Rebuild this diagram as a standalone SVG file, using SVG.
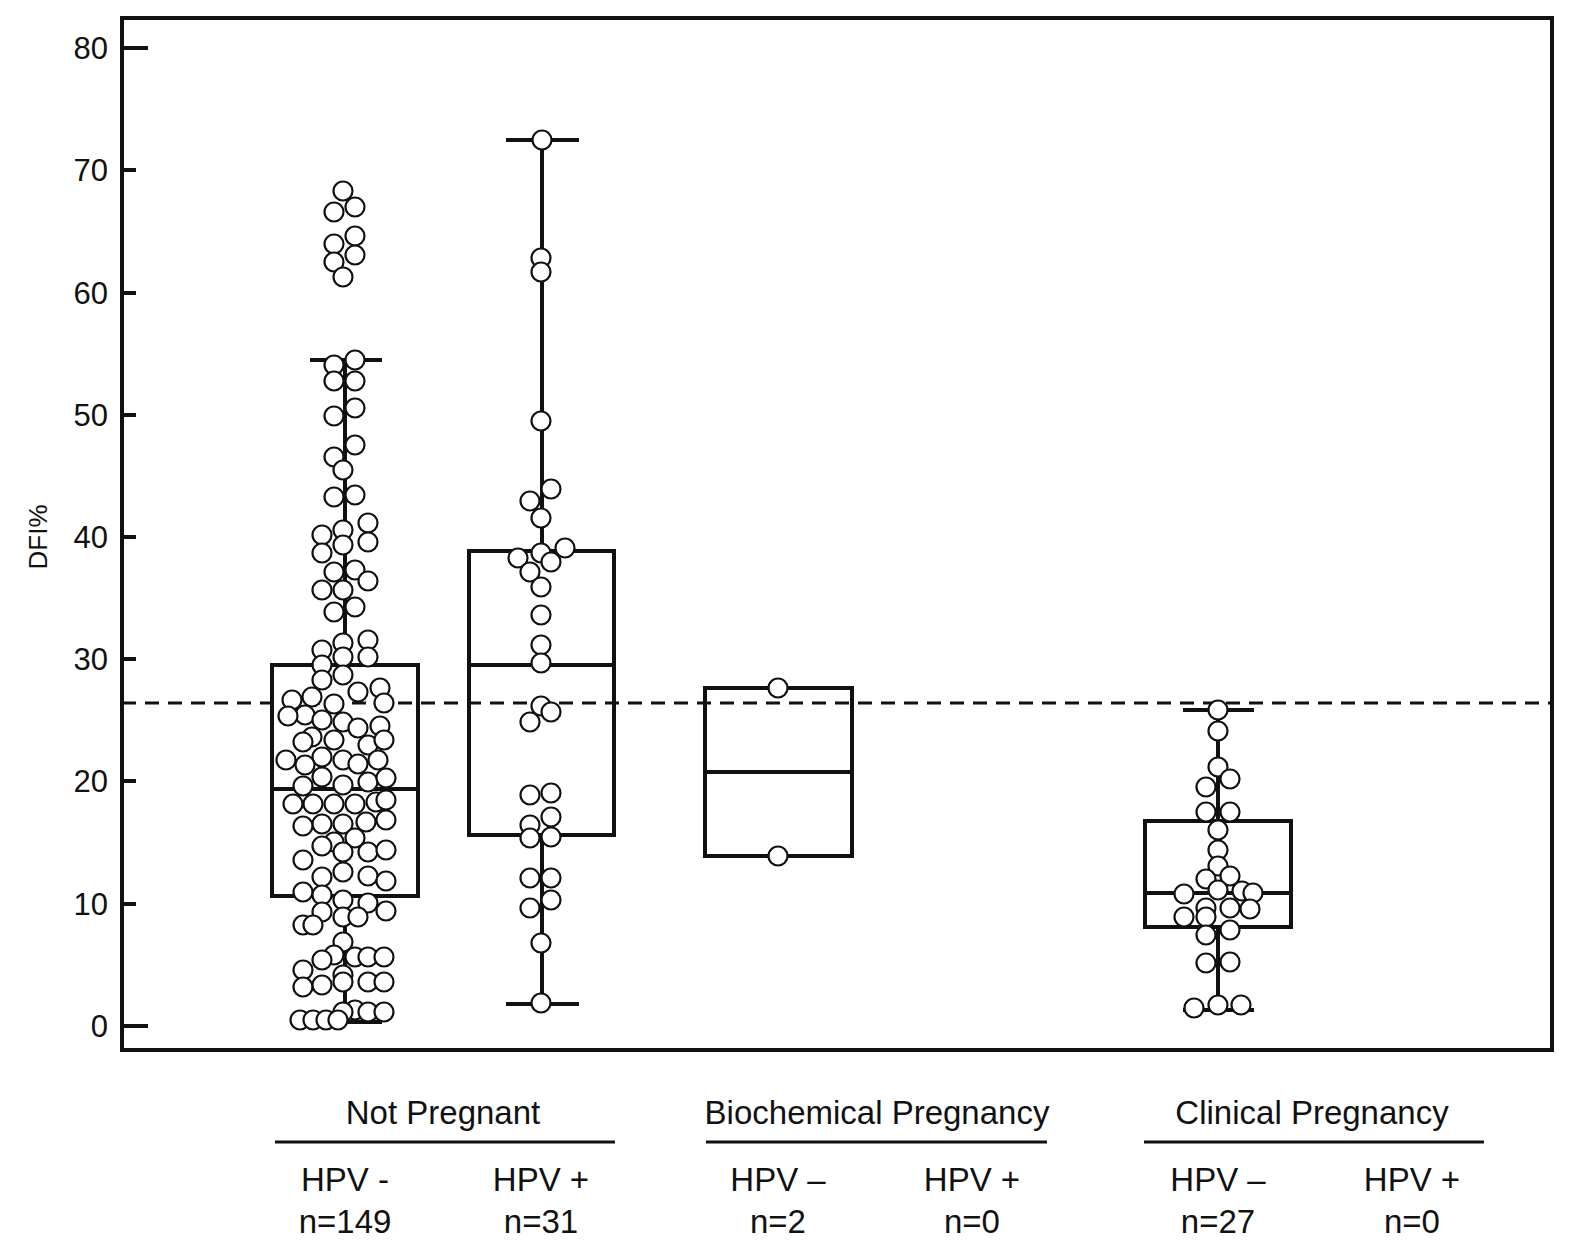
<svg xmlns="http://www.w3.org/2000/svg" width="1572" height="1254" viewBox="0 0 1572 1254">
<style>
text{font-family:"Liberation Sans",Arial,sans-serif;fill:#111}
.t{font-size:31px;text-anchor:end}
.l{font-size:33px;text-anchor:middle}
.b{fill:none;stroke:#111;stroke-width:4}
.p circle{fill:#fff;stroke:#111;stroke-width:2.2;r:9.5}
</style>
<rect width="1572" height="1254" fill="#fff"/>
<g id="axes">
<rect x="122" y="18" width="1430" height="1032" class="b"/>
<g stroke="#111" stroke-width="4">
<line x1="122" y1="1026" x2="148" y2="1026"/><line x1="122" y1="904" x2="136" y2="904"/><line x1="122" y1="781" x2="136" y2="781"/><line x1="122" y1="659" x2="136" y2="659"/><line x1="122" y1="537" x2="136" y2="537"/><line x1="122" y1="415" x2="136" y2="415"/><line x1="122" y1="293" x2="136" y2="293"/><line x1="122" y1="170" x2="136" y2="170"/><line x1="122" y1="48" x2="148" y2="48"/>
</g>
<text class="t" x="108" y="1037">0</text><text class="t" x="108" y="915">10</text><text class="t" x="108" y="792">20</text><text class="t" x="108" y="670">30</text><text class="t" x="108" y="548">40</text><text class="t" x="108" y="426">50</text><text class="t" x="108" y="304">60</text><text class="t" x="108" y="181">70</text><text class="t" x="108" y="59">80</text>
<text x="47" y="537" font-size="26" text-anchor="middle" transform="rotate(-90 47 537)">DFI%</text>
<line x1="122" y1="703" x2="1552" y2="703" stroke="#111" stroke-width="3" stroke-dasharray="14 9"/>
</g>
<g id="box1" class="b">
<line x1="345" y1="360" x2="345" y2="665"/><line x1="345" y1="896" x2="345" y2="1022"/><line x1="310" y1="360" x2="382" y2="360"/><line x1="310" y1="1022" x2="382" y2="1022"/>
<rect x="272" y="665" width="146" height="231"/><line x1="272" y1="789" x2="418" y2="789"/>
</g>
<g id="box2" class="b">
<line x1="542" y1="140" x2="542" y2="551"/><line x1="542" y1="835" x2="542" y2="1004"/><line x1="506" y1="140" x2="579" y2="140"/><line x1="506" y1="1004" x2="579" y2="1004"/>
<rect x="469" y="551" width="145" height="284"/><line x1="469" y1="665" x2="614" y2="665"/>
</g>
<g id="box3" class="b"><rect x="705" y="688" width="147" height="168"/><line x1="705" y1="772" x2="852" y2="772"/></g>
<g id="box4" class="b">
<line x1="1218" y1="710" x2="1218" y2="821"/><line x1="1218" y1="927" x2="1218" y2="1010"/><line x1="1183" y1="710" x2="1254" y2="710"/><line x1="1183" y1="1010" x2="1254" y2="1010"/>
<rect x="1145" y="821" width="146" height="106"/><line x1="1145" y1="893" x2="1291" y2="893"/>
</g>
<g id="points1" class="p">
<circle cx="343" cy="191"/><circle cx="334" cy="212"/><circle cx="355" cy="207"/><circle cx="334" cy="244"/><circle cx="355" cy="236"/><circle cx="334" cy="262"/><circle cx="355" cy="255"/><circle cx="343" cy="277"/><circle cx="355" cy="360"/><circle cx="334" cy="365"/><circle cx="355" cy="381"/><circle cx="334" cy="381"/><circle cx="334" cy="416"/><circle cx="355" cy="408"/><circle cx="334" cy="457"/><circle cx="343" cy="470"/><circle cx="355" cy="445"/><circle cx="334" cy="497"/><circle cx="355" cy="495"/><circle cx="322" cy="535"/><circle cx="343" cy="530"/><circle cx="368" cy="523"/><circle cx="322" cy="553"/><circle cx="343" cy="545"/><circle cx="368" cy="542"/><circle cx="334" cy="572"/><circle cx="355" cy="570"/><circle cx="322" cy="590"/><circle cx="343" cy="590"/><circle cx="368" cy="581"/><circle cx="334" cy="612"/><circle cx="355" cy="607"/><circle cx="322" cy="650"/><circle cx="343" cy="643"/><circle cx="368" cy="640"/><circle cx="322" cy="665"/><circle cx="343" cy="657"/><circle cx="368" cy="657"/>
<circle cx="322" cy="680"/><circle cx="343" cy="675"/><circle cx="358" cy="692"/><circle cx="380" cy="688"/><circle cx="312" cy="697"/><circle cx="292" cy="700"/><circle cx="334" cy="704"/><circle cx="384" cy="703"/><circle cx="305" cy="715"/><circle cx="322" cy="720"/><circle cx="343" cy="722"/><circle cx="358" cy="728"/><circle cx="380" cy="726"/><circle cx="288" cy="716"/><circle cx="312" cy="737"/><circle cx="334" cy="740"/><circle cx="368" cy="745"/><circle cx="384" cy="740"/><circle cx="303" cy="742"/><circle cx="322" cy="757"/><circle cx="343" cy="760"/><circle cx="358" cy="764"/><circle cx="378" cy="760"/><circle cx="305" cy="765"/><circle cx="286" cy="760"/><circle cx="322" cy="777"/><circle cx="343" cy="785"/><circle cx="368" cy="782"/><circle cx="386" cy="778"/><circle cx="303" cy="786"/><circle cx="313" cy="804"/><circle cx="334" cy="804"/><circle cx="355" cy="804"/><circle cx="376" cy="802"/><circle cx="293" cy="804"/><circle cx="386" cy="800"/><circle cx="322" cy="824"/><circle cx="343" cy="824"/><circle cx="366" cy="822"/><circle cx="303" cy="826"/><circle cx="386" cy="820"/><circle cx="334" cy="842"/><circle cx="355" cy="838"/><circle cx="322" cy="846"/><circle cx="368" cy="852"/><circle cx="303" cy="860"/><circle cx="343" cy="852"/><circle cx="386" cy="850"/><circle cx="322" cy="877"/><circle cx="343" cy="872"/><circle cx="368" cy="876"/><circle cx="386" cy="881"/><circle cx="303" cy="892"/><circle cx="322" cy="895"/><circle cx="343" cy="900"/><circle cx="368" cy="903"/><circle cx="386" cy="911"/><circle cx="303" cy="925"/><circle cx="322" cy="912"/><circle cx="343" cy="917"/><circle cx="358" cy="917"/><circle cx="313" cy="925"/><circle cx="343" cy="942"/><circle cx="334" cy="955"/><circle cx="355" cy="957"/><circle cx="368" cy="957"/><circle cx="384" cy="957"/><circle cx="322" cy="960"/><circle cx="303" cy="970"/><circle cx="343" cy="975"/><circle cx="368" cy="982"/><circle cx="384" cy="982"/><circle cx="303" cy="987"/><circle cx="322" cy="985"/><circle cx="343" cy="982"/><circle cx="355" cy="1010"/><circle cx="368" cy="1012"/><circle cx="384" cy="1012"/><circle cx="343" cy="1012"/><circle cx="300" cy="1020"/><circle cx="313" cy="1020"/><circle cx="326" cy="1020"/><circle cx="338" cy="1020"/>
</g>
<g id="points2" class="p">
<circle cx="542" cy="140"/><circle cx="541" cy="258"/><circle cx="541" cy="272"/><circle cx="541" cy="421"/><circle cx="530" cy="501"/><circle cx="551" cy="489"/><circle cx="541" cy="518"/><circle cx="518" cy="558"/><circle cx="541" cy="553"/><circle cx="565" cy="548"/><circle cx="530" cy="572"/><circle cx="551" cy="562"/><circle cx="541" cy="587"/><circle cx="541" cy="615"/><circle cx="541" cy="645"/><circle cx="541" cy="663"/><circle cx="530" cy="722"/><circle cx="541" cy="706"/><circle cx="551" cy="712"/><circle cx="530" cy="795"/><circle cx="551" cy="793"/><circle cx="530" cy="825"/><circle cx="551" cy="817"/><circle cx="530" cy="838"/><circle cx="551" cy="837"/><circle cx="530" cy="878"/><circle cx="551" cy="878"/><circle cx="530" cy="908"/><circle cx="551" cy="900"/><circle cx="541" cy="943"/><circle cx="541" cy="1003"/>
</g>
<g id="points3" class="p"><circle cx="778" cy="688"/><circle cx="778" cy="856"/></g>
<g id="points4" class="p">
<circle cx="1218" cy="710"/><circle cx="1218" cy="731"/><circle cx="1218" cy="767"/><circle cx="1206" cy="787"/><circle cx="1230" cy="779"/><circle cx="1206" cy="812"/><circle cx="1230" cy="812"/><circle cx="1218" cy="830"/><circle cx="1218" cy="850"/><circle cx="1218" cy="866"/><circle cx="1206" cy="879"/><circle cx="1230" cy="876"/><circle cx="1184" cy="894"/><circle cx="1218" cy="890"/><circle cx="1242" cy="891"/><circle cx="1206" cy="908"/><circle cx="1230" cy="908"/><circle cx="1253" cy="893"/><circle cx="1184" cy="917"/><circle cx="1206" cy="917"/><circle cx="1250" cy="909"/><circle cx="1206" cy="935"/><circle cx="1230" cy="930"/><circle cx="1206" cy="963"/><circle cx="1230" cy="962"/><circle cx="1194" cy="1008"/><circle cx="1218" cy="1005"/><circle cx="1241" cy="1005"/>
</g>
<g id="labels">
<g stroke="#111" stroke-width="3"><line x1="275" y1="1142" x2="615" y2="1142"/><line x1="706" y1="1142" x2="1047" y2="1142"/><line x1="1144" y1="1142" x2="1484" y2="1142"/></g>
<text class="l" x="443" y="1124">Not Pregnant</text><text class="l" x="877" y="1124">Biochemical Pregnancy</text><text class="l" x="1312" y="1124">Clinical Pregnancy</text>
<text class="l" x="345" y="1191">HPV -</text><text class="l" x="345" y="1233">n=149</text>
<text class="l" x="541" y="1191">HPV +</text><text class="l" x="541" y="1233">n=31</text>
<text class="l" x="778" y="1191">HPV –</text><text class="l" x="778" y="1233">n=2</text>
<text class="l" x="972" y="1191">HPV +</text><text class="l" x="972" y="1233">n=0</text>
<text class="l" x="1218" y="1191">HPV –</text><text class="l" x="1218" y="1233">n=27</text>
<text class="l" x="1412" y="1191">HPV +</text><text class="l" x="1412" y="1233">n=0</text>
</g>
</svg>
